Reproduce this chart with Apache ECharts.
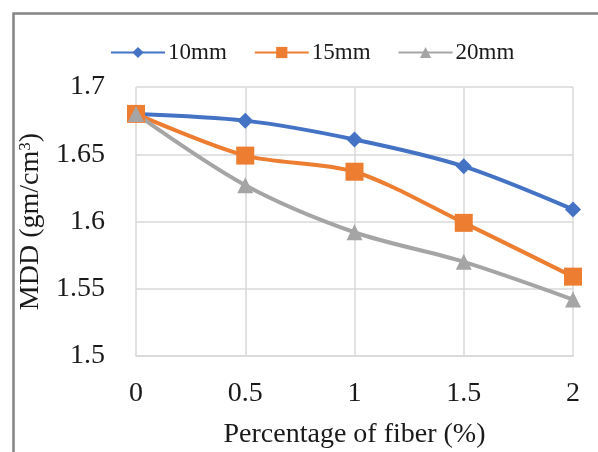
<!DOCTYPE html>
<html>
<head>
<meta charset="utf-8">
<script src="https://cdn.jsdelivr.net/npm/echarts@6/dist/echarts.min.js"></script>
<style>
  html, body { margin: 0; padding: 0; background: #ffffff; }
  #chart { width: 598px; height: 452px; }
</style>
</head>
<body>
<div id="chart"></div>
<script>
// Fiber content (%) on the x axis
const fiberPct = [0, 0.5, 1, 1.5, 2];
// Maximum dry density for each fiber length
const mdd10mm = [1.680, 1.675, 1.661, 1.641, 1.609];
const mdd15mm = [1.680, 1.649, 1.637, 1.599, 1.559];
const mdd20mm = [1.680, 1.627, 1.592, 1.570, 1.542];
const seriesNames = ['10mm', '15mm', '20mm'];

const serif = '"Liberation Serif", "Times New Roman", serif';
const gridColor = '#d9d9d9';

function pairs(ys) {
  return fiberPct.map((x, i) => [x, ys[i]]);
}

const chart = echarts.init(document.getElementById('chart'), null, { renderer: 'canvas' });

chart.setOption({
  backgroundColor: '#ffffff',
  animation: false,
  textStyle: { fontFamily: serif, color: '#1a1a1a' },
  graphic: [{
    type: 'rect',
    left: 11, top: 11,
    shape: { width: 620, height: 470 },
    style: { fill: 'none', stroke: '#858585', lineWidth: 2.5 },
    silent: true
  }],
  legend: {
    top: 36,
    left: 105,
    itemWidth: 54,
    itemHeight: 14,
    itemGap: 27,
    textStyle: { fontFamily: serif, fontSize: 23, color: '#1a1a1a', padding: [2, 0, 0, -2] },
    data: seriesNames
  },
  grid: {
    left: 136, right: 25, top: 87, bottom: 96,
    containLabel: false,
    outerBoundsMode: 'none'
  },
  xAxis: {
    type: 'value',
    min: 0, max: 2, interval: 0.5,
    name: 'Percentage of fiber (%)',
    nameLocation: 'middle',
    nameGap: 65,
    nameTextStyle: { fontFamily: serif, fontSize: 28, color: '#1a1a1a' },
    axisLine: { show: true, lineStyle: { color: gridColor, width: 1.5 } },
    axisTick: { show: false },
    axisLabel: { fontFamily: serif, fontSize: 28, color: '#1a1a1a', margin: 24 },
    splitLine: { show: true, lineStyle: { color: gridColor, width: 1.5 } }
  },
  yAxis: {
    type: 'value',
    min: 1.5, max: 1.7, interval: 0.05,
    name: 'MDD (gm/cm{sup|3})',
    nameLocation: 'middle',
    nameGap: 85,
    nameRotate: 90,
    nameTextStyle: {
      fontFamily: serif, fontSize: 28, color: '#1a1a1a',
      rich: {
        sup: { fontFamily: serif, fontSize: 17, color: '#1a1a1a', padding: [0, 0, 12, 0] }
      }
    },
    axisLine: { show: false },
    axisTick: { show: false },
    axisLabel: { fontFamily: serif, fontSize: 28, color: '#1a1a1a', margin: 31 },
    splitLine: { show: true, lineStyle: { color: gridColor, width: 1.5 } }
  },
  series: [
    {
      name: seriesNames[0], type: 'line', smooth: 0.3,
      data: pairs(mdd10mm),
      symbol: 'diamond', symbolSize: 16,
      lineStyle: { color: '#4472C4', width: 4 },
      itemStyle: { color: '#4472C4' }
    },
    {
      name: seriesNames[1], type: 'line', smooth: 0.3,
      data: pairs(mdd15mm),
      symbol: 'rect', symbolSize: 18,
      lineStyle: { color: '#ED7D31', width: 4 },
      itemStyle: { color: '#ED7D31' }
    },
    {
      name: seriesNames[2], type: 'line', smooth: 0.3,
      data: pairs(mdd20mm),
      symbol: 'triangle', symbolSize: 16,
      lineStyle: { color: '#A5A5A5', width: 4 },
      itemStyle: { color: '#A5A5A5' }
    }
  ]
});
</script>
</body>
</html>
